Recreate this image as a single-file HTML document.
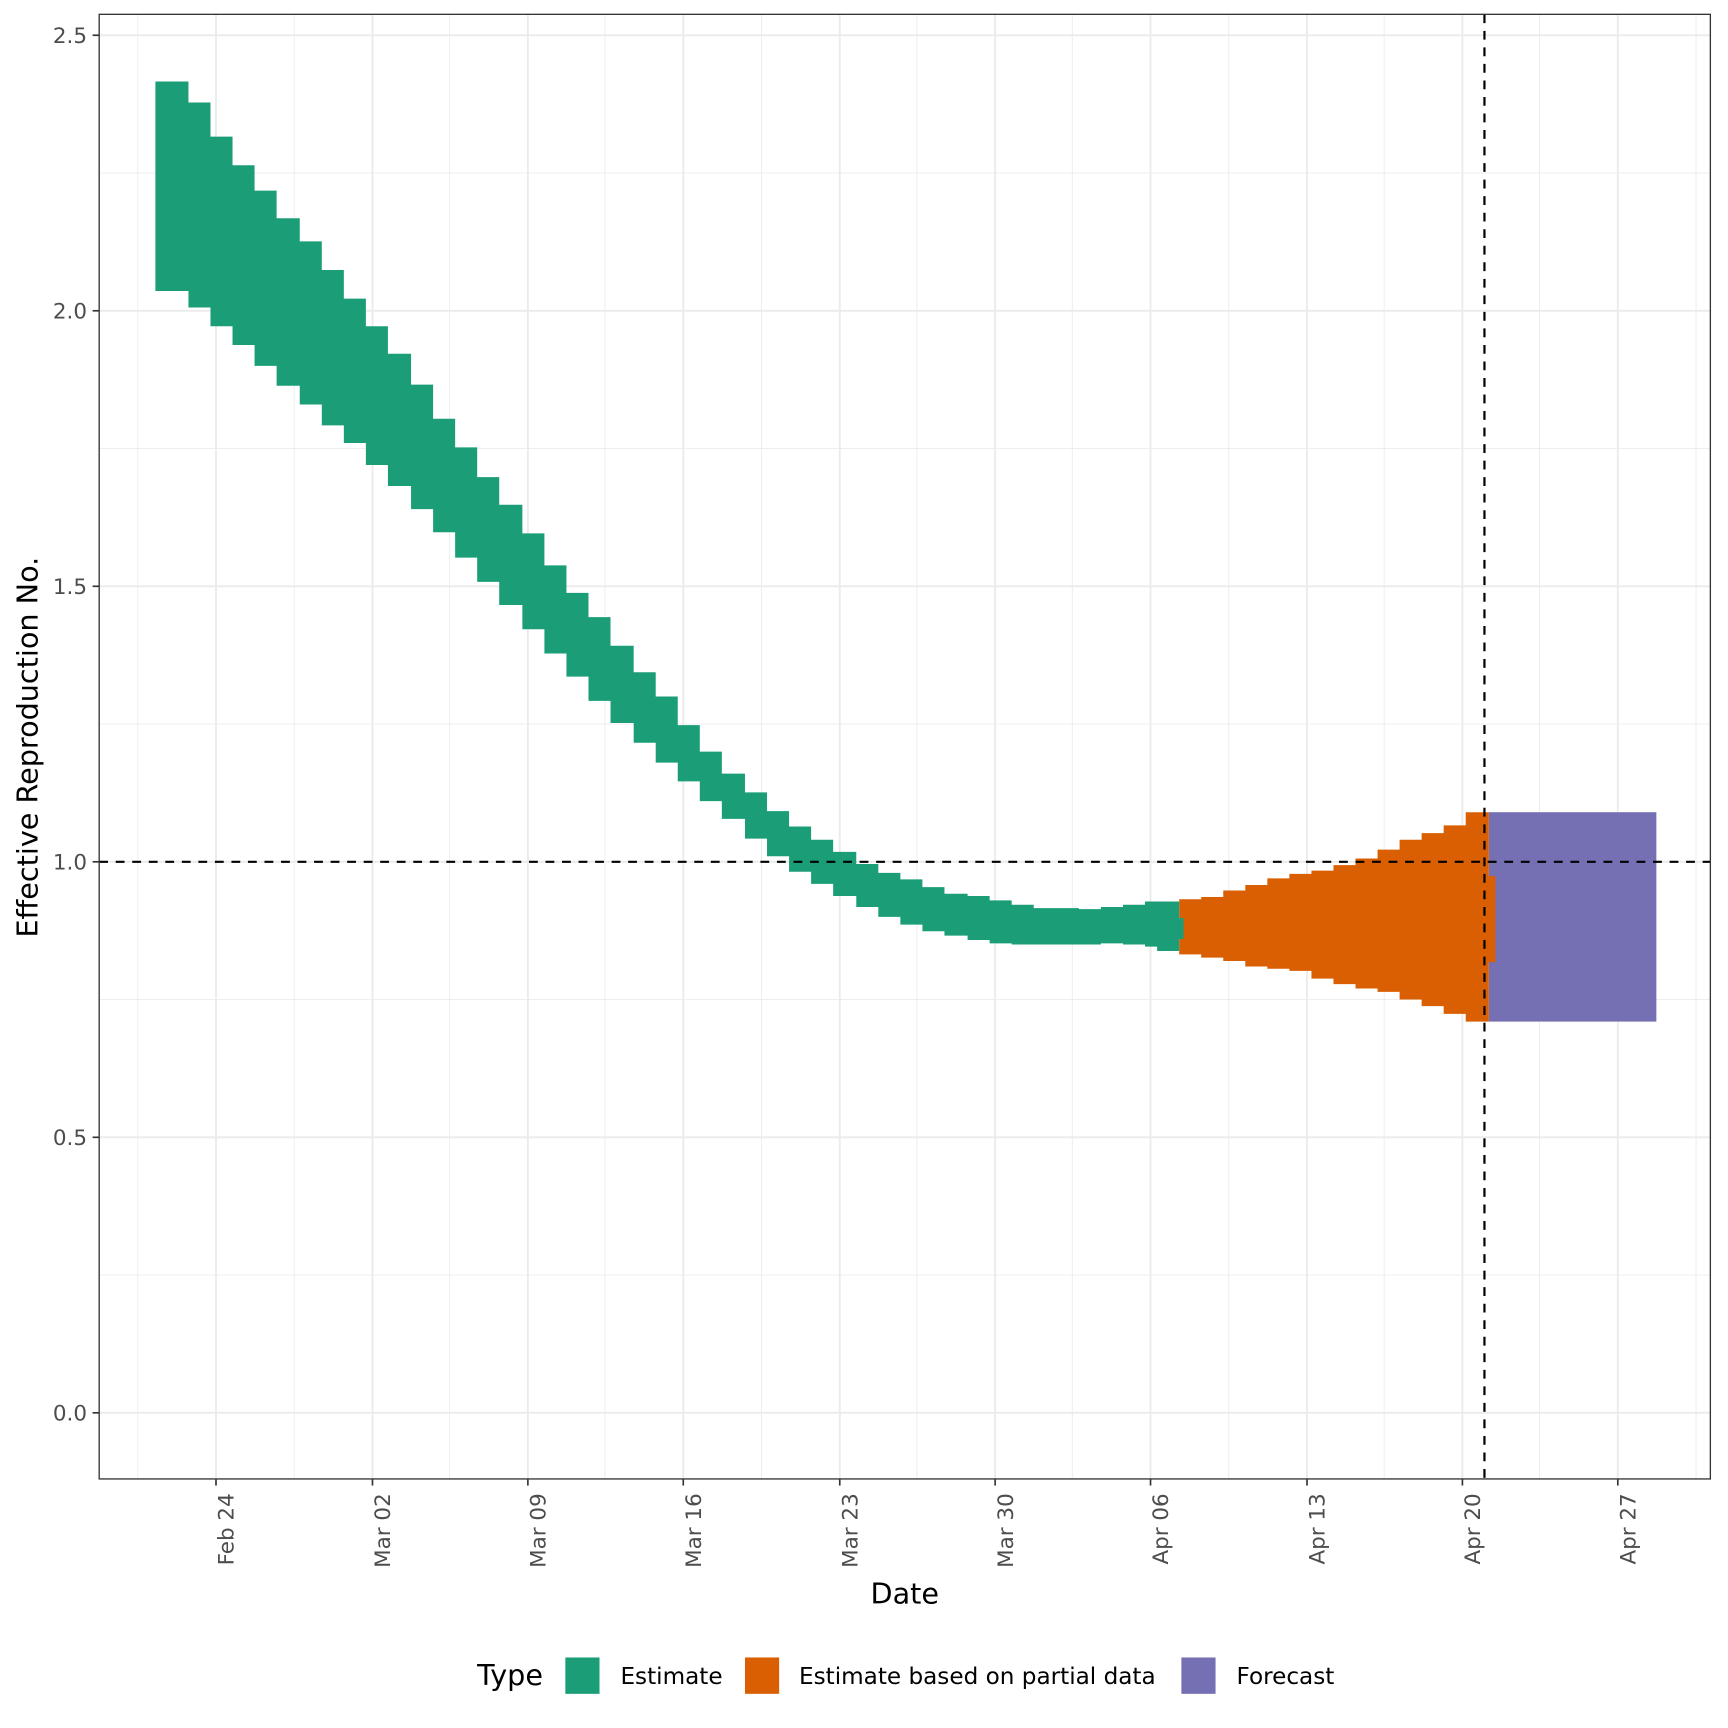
<!DOCTYPE html>
<html><head><meta charset="utf-8"><style>html,body{margin:0;padding:0;background:#fff}svg{display:block}</style></head><body>
<svg xmlns="http://www.w3.org/2000/svg" width="1728" height="1728" viewBox="0 0 1568 1568" font-family="'DejaVu Sans','Liberation Sans',sans-serif">
<rect width="1568" height="1568" fill="#fff"/>
<g stroke="#ebebeb" stroke-width="0.8">
<line x1="90" x2="1552" y1="1157" y2="1157"/><line x1="90" x2="1552" y1="907" y2="907"/><line x1="90" x2="1552" y1="657" y2="657"/><line x1="90" x2="1552" y1="407" y2="407"/><line x1="90" x2="1552" y1="157" y2="157"/>
<line y1="13" y2="1342" x1="125" x2="125"/><line y1="13" y2="1342" x1="267" x2="267"/><line y1="13" y2="1342" x1="408" x2="408"/><line y1="13" y2="1342" x1="549" x2="549"/><line y1="13" y2="1342" x1="691" x2="691"/><line y1="13" y2="1342" x1="832" x2="832"/><line y1="13" y2="1342" x1="973" x2="973"/><line y1="13" y2="1342" x1="1115" x2="1115"/><line y1="13" y2="1342" x1="1256" x2="1256"/><line y1="13" y2="1342" x1="1397" x2="1397"/><line y1="13" y2="1342" x1="1539" x2="1539"/>
</g>
<g stroke="#ebebeb" stroke-width="1.7">
<line x1="90" x2="1552" y1="1282" y2="1282"/><line x1="90" x2="1552" y1="1032" y2="1032"/><line x1="90" x2="1552" y1="782" y2="782"/><line x1="90" x2="1552" y1="532" y2="532"/><line x1="90" x2="1552" y1="282" y2="282"/><line x1="90" x2="1552" y1="32" y2="32"/>
<line y1="13" y2="1342" x1="196" x2="196"/><line y1="13" y2="1342" x1="338" x2="338"/><line y1="13" y2="1342" x1="479" x2="479"/><line y1="13" y2="1342" x1="620" x2="620"/><line y1="13" y2="1342" x1="762" x2="762"/><line y1="13" y2="1342" x1="903" x2="903"/><line y1="13" y2="1342" x1="1044" x2="1044"/><line y1="13" y2="1342" x1="1186" x2="1186"/><line y1="13" y2="1342" x1="1327" x2="1327"/><line y1="13" y2="1342" x1="1468" x2="1468"/>
</g>
<rect x="1351" y="737" width="152" height="190" fill="#7570b3"/>
<path fill="#d95f02" d="M1070,816 H1090 V814 H1110 V808 H1130 V803 H1150 V797 H1170 V793 H1190 V790 H1210 V785 H1230 V779 H1250 V771 H1270 V762 H1290 V756 H1310 V749 H1330 V737 H1351 V927 H1330 V920 H1310 V913 H1290 V907 H1270 V900 H1250 V897 H1230 V893 H1210 V888 H1190 V881 H1170 V879 H1150 V877 H1130 V872 H1110 V869 H1090 V866 H1070 Z"/>
<rect x="1350" y="795" width="7" height="78" fill="#d95f02"/>
<path fill="#1b9e77" d="M141,74 H171 V93 H191 V124 H211 V150 H231 V173 H251 V198 H272 V219 H292 V245 H312 V271 H332 V296 H352 V321 H373 V349 H393 V380 H413 V406 H433 V433 H453 V458 H474 V484 H494 V513 H514 V538 H534 V560 H554 V586 H575 V610 H595 V632 H615 V658 H635 V682 H655 V702 H676 V719 H696 V736 H716 V750 H736 V762 H756 V773 H777 V784 H797 V792 H817 V798 H837 V805 H857 V811 H878 V813 H898 V817 H918 V821 H938 V824 H979 V825 H999 V823 H1019 V821 H1039 V818 H1070 V833 H1074 V852 H1070 V863 H1050 V859 H1039 V857 H1019 V856 H999 V857 H918 V856 H898 V853 H878 V849 H857 V845 H837 V839 H817 V832 H797 V823 H777 V813 H756 V802 H736 V791 H716 V777 H696 V761 H676 V743 H655 V727 H635 V709 H615 V692 H595 V674 H575 V656 H554 V636 H534 V614 H514 V593 H494 V571 H474 V549 H453 V528 H433 V506 H413 V483 H393 V462 H373 V441 H352 V422 H332 V402 H312 V386 H292 V367 H272 V350 H251 V332 H231 V313 H211 V296 H191 V279 H171 V264 H141 Z"/>
<line x1="90" x2="1552" y1="782" y2="782" stroke="#000" stroke-width="2" stroke-dasharray="8,7"/>
<line x1="1347" x2="1347" y1="13" y2="1342" stroke="#000" stroke-width="2" stroke-dasharray="8,7"/>
<rect x="90" y="13" width="1462" height="1329" fill="none" stroke="#333" stroke-width="1.2"/>
<g stroke="#333" stroke-width="1.5">
<line x1="84" x2="90" y1="1282" y2="1282"/><line x1="84" x2="90" y1="1032" y2="1032"/><line x1="84" x2="90" y1="782" y2="782"/><line x1="84" x2="90" y1="532" y2="532"/><line x1="84" x2="90" y1="282" y2="282"/><line x1="84" x2="90" y1="32" y2="32"/>
<line y1="1342" y2="1348" x1="196" x2="196"/><line y1="1342" y2="1348" x1="338" x2="338"/><line y1="1342" y2="1348" x1="479" x2="479"/><line y1="1342" y2="1348" x1="620" x2="620"/><line y1="1342" y2="1348" x1="762" x2="762"/><line y1="1342" y2="1348" x1="903" x2="903"/><line y1="1342" y2="1348" x1="1044" x2="1044"/><line y1="1342" y2="1348" x1="1186" x2="1186"/><line y1="1342" y2="1348" x1="1327" x2="1327"/><line y1="1342" y2="1348" x1="1468" x2="1468"/>
</g>
<g fill="#4d4d4d" font-size="19.5" text-anchor="end">
<text x="79" y="1289">0.0</text><text x="79" y="1039">0.5</text><text x="79" y="789">1.0</text><text x="79" y="539">1.5</text><text x="79" y="289">2.0</text><text x="79" y="39">2.5</text>
</g>
<g fill="#4d4d4d" font-size="19.5" text-anchor="end">
<text transform="translate(212,1355) rotate(-90)">Feb 24</text>
<text transform="translate(354,1355) rotate(-90)">Mar 02</text>
<text transform="translate(495,1355) rotate(-90)">Mar 09</text>
<text transform="translate(636,1355) rotate(-90)">Mar 16</text>
<text transform="translate(778,1355) rotate(-90)">Mar 23</text>
<text transform="translate(919,1355) rotate(-90)">Mar 30</text>
<text transform="translate(1060,1355) rotate(-90)">Apr 06</text>
<text transform="translate(1202,1355) rotate(-90)">Apr 13</text>
<text transform="translate(1343,1355) rotate(-90)">Apr 20</text>
<text transform="translate(1484,1355) rotate(-90)">Apr 27</text>
</g>
<text x="821" y="1455" font-size="26" text-anchor="middle">Date</text>
<text transform="translate(34,678) rotate(-90)" font-size="26" text-anchor="middle">Effective Reproduction No.</text>
<text x="433" y="1529" font-size="26">Type</text>
<rect x="513" y="1504" width="31" height="33" fill="#1b9e77"/>
<text x="563" y="1528" font-size="21">Estimate</text>
<rect x="676" y="1504" width="31" height="33" fill="#d95f02"/>
<text x="725" y="1528" font-size="21">Estimate based on partial data</text>
<rect x="1072" y="1504" width="31" height="33" fill="#7570b3"/>
<text x="1122" y="1528" font-size="21">Forecast</text>
</svg>
</body></html>
